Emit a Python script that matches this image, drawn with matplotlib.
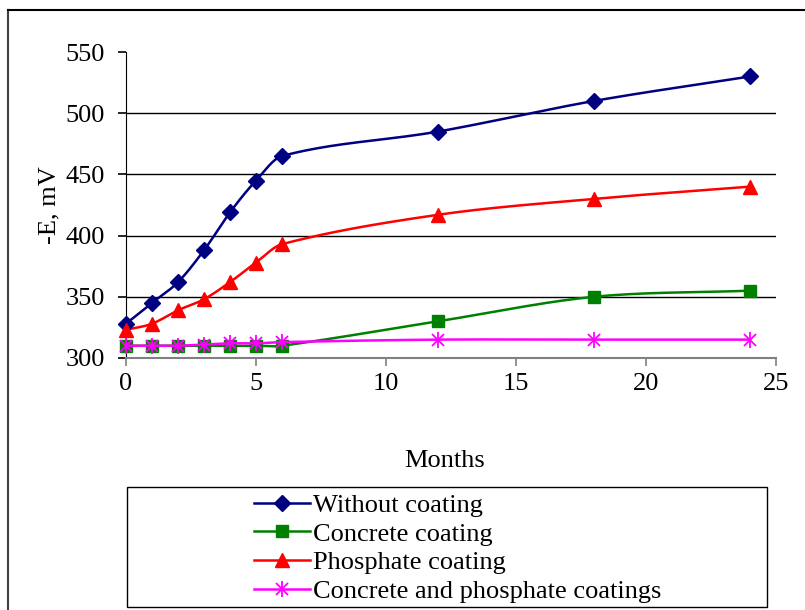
import numpy as np
import matplotlib
matplotlib.use("Agg")
import matplotlib.pyplot as plt
from matplotlib.patches import Rectangle
from matplotlib.lines import Line2D
from matplotlib.legend_handler import HandlerTuple

plt.rcParams['font.family'] = ['Liberation Serif', 'DejaVu Serif']

# -------------------------
# DADOS
# -------------------------
months = [0, 1, 2, 3, 4, 5, 6, 12, 18, 24]
without_coating = [328, 345, 362, 388, 419, 445, 465, 485, 510, 530]
concrete_coating = [310, 310, 310, 310, 310, 310, 310, 330, 350, 355]
phosphate_coating = [323, 328, 339, 348, 362, 378, 393, 417, 430, 440]
concrete_phosphate = [310, 310, 310, 311, 312, 312, 313, 315, 315, 315]

labels = ["Without coating", "Concrete coating", "Phosphate coating",
          "Concrete and phosphate coatings"]


def suavizar(xs, ys, n=40):
    # curva suave (Hermite cubica com declives tipo Catmull-Rom)
    x = np.asarray(xs, float)
    y = np.asarray(ys, float)
    m = np.zeros_like(y)
    m[1:-1] = (y[2:] - y[:-2]) / (x[2:] - x[:-2])
    m[0] = (y[1] - y[0]) / (x[1] - x[0])
    m[-1] = (y[-1] - y[-2]) / (x[-1] - x[-2])
    px, py = [], []
    for i in range(len(x) - 1):
        h = x[i + 1] - x[i]
        t = np.linspace(0, 1, n)
        h00 = 2 * t**3 - 3 * t**2 + 1
        h10 = t**3 - 2 * t**2 + t
        h01 = -2 * t**3 + 3 * t**2
        h11 = t**3 - t**2
        px.append(x[i] + t * h)
        py.append(h00 * y[i] + h10 * h * m[i] + h01 * y[i + 1]
                  + h11 * h * m[i + 1])
    return np.concatenate(px), np.concatenate(py)


fig = plt.figure(figsize=(8.05, 6.1), dpi=100)
ax = fig.add_axes([126 / 805, 1 - 358 / 610, 650 / 805, 306 / 610])

lw = 1.8
fs = 19
series = [
    (without_coating, "#000080", "D", 8),
    (concrete_coating, "#008000", "s", 9),
    (phosphate_coating, "#FF0000", "^", 10),
]
handles = []
for vals, cor, mk, ms in series:
    sx, sy = suavizar(months, vals)
    ax.plot(sx, sy, color=cor, lw=lw, clip_on=False, zorder=3)
    ax.plot(months, vals, linestyle="none", marker=mk, ms=ms, color=cor,
            clip_on=False, zorder=4)
    handles.append(Line2D([], [], color=cor, lw=lw, marker=mk, ms=ms))

# estrela (x + |)
sx, sy = suavizar(months, concrete_phosphate)
ax.plot(sx, sy, color="#FF00FF", lw=lw, clip_on=False, zorder=5)
ax.plot(months, concrete_phosphate, linestyle="none", marker="x", ms=9,
        mew=1.3, color="#FF00FF", clip_on=False, zorder=6)
ax.plot(months, concrete_phosphate, linestyle="none", marker="|", ms=12,
        mew=1.3, color="#FF00FF", clip_on=False, zorder=6)
h1 = Line2D([], [], color="#FF00FF", lw=lw, marker="x", ms=9, mew=1.3)
h2 = Line2D([], [], color="#FF00FF", lw=0, marker="|", ms=12, mew=1.3)
handles.append((h1, h2))

ax.set_xlim(0, 25)
ax.set_ylim(300, 550)
ax.set_xticks([0, 5, 10, 15, 20, 25])
ax.set_yticks([300, 350, 400, 450, 500, 550])
for yv in [350, 400, 450, 500]:
    ax.axhline(yv, color="black", lw=1, zorder=1)

for s in ["top", "right"]:
    ax.spines[s].set_visible(False)
ax.spines["left"].set_color("black")
ax.spines["bottom"].set_color("#808080")
ax.spines["bottom"].set_linewidth(1.5)
ax.tick_params(axis="both", labelsize=fs, direction="out", length=6,
               width=1.2)
ax.tick_params(axis="x", pad=5, colors="#808080", labelcolor="black")
ax.tick_params(axis="y", pad=9)

ax.set_ylabel("-E, mV", fontsize=fs, labelpad=4)
fig.text(445 / 805, 1 - 461 / 610, "Months", fontsize=fs,
         ha="center", va="center")

# moldura exterior (so topo e esquerda)
fig.add_artist(Line2D([8 / 805, 8 / 805], [0, 1 - 10 / 610],
                      color="#404040", lw=1.5))
fig.add_artist(Line2D([8 / 805, 1], [1 - 10 / 610, 1 - 10 / 610],
                      color="black", lw=1.5))

# legenda
fig.add_artist(Rectangle((127 / 805, 1 - 607 / 610), 640 / 805, 120 / 610,
                         fill=False, edgecolor="black", lw=1,
                         transform=fig.transFigure))
fig.legend(handles, labels, loc="upper left",
           bbox_to_anchor=(236 / 805, 1 - 475 / 610), frameon=False,
           fontsize=fs, handlelength=2.1, handletextpad=0.1,
           labelspacing=0.2, borderpad=0.2,
           handler_map={tuple: HandlerTuple(ndivide=1)})

fig.savefig("out.png", dpi=100)
